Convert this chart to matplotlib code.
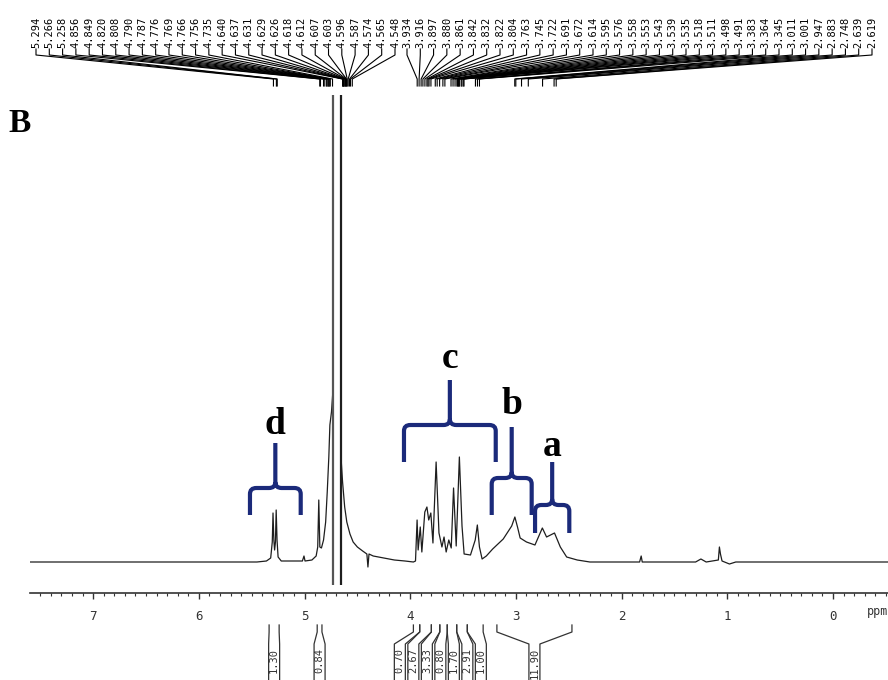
import numpy as np
import matplotlib
matplotlib.use("Agg")
import matplotlib.pyplot as plt
from matplotlib.path import Path
from matplotlib.patches import PathPatch
from matplotlib.ticker import MultipleLocator

# 1H NMR trace: chemical shift (ppm) and intensity (a.u.)
shift_a = [7.60, 6.80, 6.00, 5.45, 5.36, 5.32, 5.305, 5.298, 5.29, 5.283, 5.275,
           5.268, 5.26, 5.25, 5.22, 5.10, 5.02, 5.005, 4.995, 4.93, 4.89, 4.875,
           4.865, 4.855, 4.84, 4.82, 4.80, 4.785, 4.77, 4.76, 4.745, 4.732]
inten_a = [0, 0, 0, 0, 1, 4, 20, 49, 22, 12, 20,
           52, 22, 5, 1, 1, 1, 6, 1, 2, 6, 15,
           62, 15, 14, 22, 40, 70, 105, 137, 150, 170]
shift_b = [4.652, 4.64, 4.62, 4.60, 4.57, 4.54, 4.50, 4.45, 4.41, 4.40, 4.39,
           4.35, 4.25, 4.15, 4.05, 3.97, 3.95, 3.935, 3.925, 3.905, 3.89, 3.862,
           3.842, 3.825, 3.805, 3.785, 3.755, 3.728, 3.70, 3.68, 3.66, 3.635,
           3.612, 3.59, 3.565, 3.535, 3.51, 3.49, 3.43, 3.385, 3.365, 3.345,
           3.32, 3.28, 3.22, 3.12, 3.04, 3.01, 2.985, 2.96, 2.90, 2.82, 2.75,
           2.71, 2.635, 2.58, 2.52, 2.42, 2.30, 1.83, 1.815, 1.805, 1.30, 1.25,
           1.20, 1.085, 1.075, 1.065, 1.05, 0.98, 0.92, -0.52]
inten_b = [100, 80, 55, 40, 28, 20, 15, 11, 8, -5, 8,
           6, 4, 2, 1, 0, 1, 42, 12, 35, 10, 50,
           55, 42, 49, 19, 100, 29, 15, 25, 10, 22,
           14, 74, 16, 105, 36, 8, 7, 22, 37, 15,
           3, 6, 13, 23, 36, 45, 35, 24, 20, 17, 34,
           25, 29, 15, 5, 2, 0, 0, 6, 0, 0, 3,
           0, 2, 15, 8, 1, -2, 0, 0]
solvent_edges = [4.730, 4.655]

peaks_left = ["5.294", "5.266", "5.258", "4.856", "4.849", "4.820", "4.808",
              "4.790", "4.787", "4.776", "4.769", "4.766", "4.756", "4.735",
              "4.640", "4.637", "4.631", "4.629", "4.626", "4.618", "4.612",
              "4.607", "4.603", "4.596", "4.587", "4.574", "4.565", "4.548"]
peaks_right = ["3.934", "3.916", "3.897", "3.880", "3.861", "3.842", "3.832",
               "3.822", "3.804", "3.763", "3.745", "3.722", "3.691", "3.672",
               "3.614", "3.595", "3.576", "3.558", "3.553", "3.543", "3.539",
               "3.535", "3.518", "3.511", "3.498", "3.491", "3.383", "3.364",
               "3.345", "3.011", "3.001", "2.947", "2.883", "2.748", "2.639",
               "2.619"]

integral_from = [5.335, 4.880, 3.97, 3.91, 3.80, 3.72, 3.65, 3.56, 3.46, 3.18]
integral_to = [5.240, 4.835, 3.91, 3.80, 3.72, 3.65, 3.56, 3.46, 3.31, 2.47]
integral_values = ["1.30", "0.84", "0.70", "2.67", "3.33", "0.80", "1.70",
                   "2.91", "1.00", "11.90"]

group_names = ["d", "c", "b", "a"]
group_from = [5.516, 4.059, 3.229, 2.819]
group_to = [5.036, 3.191, 2.851, 2.495]

# brace geometry (leg bottom, bar, stem top, letter) in intensity units
brace_levels = {"d": (47, 74, 119, 137), "c": (100, 137, 182, 204),
                "b": (47, 84, 135, 158), "a": (29, 57, 100, 116)}

W, H = 888, 680
navy = "#1b2a7a"
ink = "#1e1e1e"
mono = "DejaVu Sans Mono"
serif = "Liberation Serif"

fig = plt.figure(figsize=(W / 100, H / 100), dpi=100)
ax = fig.add_axes([30 / W, 1 - 593 / H, 858 / W, 498 / H])
ax.set_xlim(7.597, -0.52)
ax.set_ylim(-31, 467)

ax.plot(shift_a, inten_a, color=ink, lw=0.9)
ax.plot(shift_b, inten_b, color=ink, lw=0.9)
ax.vlines(solvent_edges, -23, 467, colors=["#555555", ink], lw=1.6)

for s in ["left", "right", "top"]:
    ax.spines[s].set_visible(False)
ax.spines["bottom"].set_linewidth(1.2)
ax.spines["bottom"].set_color("#333333")
ax.set_yticks([])
ax.xaxis.set_major_locator(MultipleLocator(1))
ax.xaxis.set_minor_locator(MultipleLocator(0.1))
ax.tick_params(axis="x", which="major", length=4, width=1, pad=8,
               labelsize=9, colors="#333333")
ax.tick_params(axis="x", which="minor", length=2, width=0.8, colors="#333333")
for lab in ax.get_xticklabels():
    lab.set_family(mono)
ax.text(1.0, -50, "ppm", transform=ax.get_yaxis_transform(), ha="right",
        va="center", family=mono, fontsize=8.5, color="#333333")


def brace(name, x0, x1):
    leg, bar, top, letter = brace_levels[name]
    xc = (x0 + x1) / 2
    rx, ry = 0.06, 6
    verts = [(x0, leg), (x0, bar - ry), (x0, bar), (x0 - rx, bar),
             (xc + rx, bar), (xc, bar), (xc, bar + ry), (xc, top),
             (x1, leg), (x1, bar - ry), (x1, bar), (x1 + rx, bar),
             (xc - rx, bar), (xc, bar), (xc, bar + ry)]
    codes = [Path.MOVETO, Path.LINETO, Path.CURVE3, Path.CURVE3,
             Path.LINETO, Path.CURVE3, Path.CURVE3, Path.LINETO,
             Path.MOVETO, Path.LINETO, Path.CURVE3, Path.CURVE3,
             Path.LINETO, Path.CURVE3, Path.CURVE3]
    ax.add_patch(PathPatch(Path(verts, codes), fill=False, ec=navy, lw=3))
    ax.text(xc, letter, name, ha="center", va="center", family=serif,
            fontweight="bold", fontsize=27, color="black")


for name, x0, x1 in zip(group_names, group_from, group_to):
    brace(name, x0, x1)

# overlay in pixel units for peak picking and integral marks
ov = fig.add_axes([0, 0, 1, 1])
ov.set_xlim(0, W)
ov.set_ylim(H, 0)
ov.axis("off")


def px(ppm):
    return ax.transData.transform((ppm, 0))[0]


def pick(labels, x_start, x_end):
    xs = np.linspace(x_start, x_end, len(labels))
    for lab, xl in zip(labels, xs):
        xp = px(float(lab))
        ov.plot([xl, xl, xp, xp], [49, 55, 79, 86], color="black", lw=0.8)
        ov.text(xl, 48, lab, rotation=90, ha="center", va="bottom",
                family=mono, fontsize=7.5, color="black")


pick(peaks_left, 36, 395)
pick(peaks_right, 407, 872)

centers = [(px(a) + px(b)) / 2 for a, b in zip(integral_from, integral_to)]
c_idx = list(range(2, 9))
c_mid = np.mean([centers[i] for i in c_idx]) - 4
for k, i in enumerate(c_idx):
    centers[i] = c_mid + (k - 3) * 13.5

half = 5.5
for a, b, val, bc in zip(integral_from, integral_to, integral_values, centers):
    for edge, side in ((px(a), -1), (px(b), 1)):
        ov.plot([edge, edge, bc + side * half, bc + side * half],
                [625, 632, 644, 690], color="#333333", lw=0.9)
    ov.text(bc, 648, val, rotation=90, ha="center", va="top", family=mono,
            fontsize=7.5, color="#333333")

fig.text(8 / W, 1 - 124 / H, "B", ha="left", va="center", family=serif,
         fontweight="bold", fontsize=24)

fig.savefig("out.png", dpi=100)
